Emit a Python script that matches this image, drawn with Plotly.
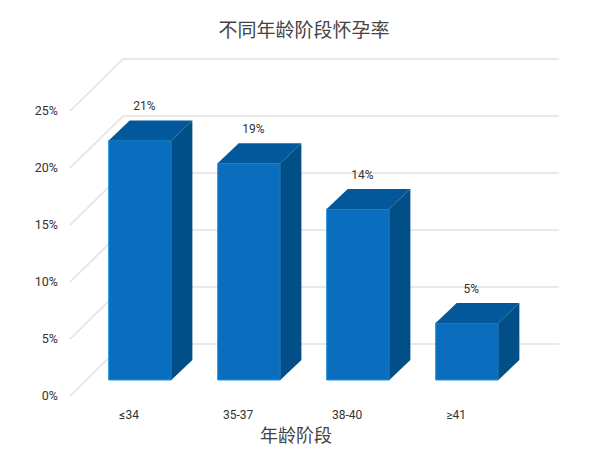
import plotly.graph_objects as go

# Data
categories = ["≤34", "35-37", "38-40", "≥41"]
bar_heights = [21, 19, 15, 5]          # heights as drawn in the picture
bar_labels = ["21%", "19%", "14%", "5%"]  # labels as printed in the picture
y_ticks = [0, 5, 10, 15, 20, 25]
y_tick_labels = ["0%", "5%", "10%", "15%", "20%", "25%"]
title_text = "不同年龄阶段怀孕率"
x_title_text = "年龄阶段"

# Fake-3D geometry, in axis units
BAR_W = 0.575
DX, DY = 0.193, 1.754        # bar depth
WALL_FX, WALL_FY = 0.358, -1.404   # front edge of the side wall
WALL_BX, WALL_BY = 0.844, 3.158    # back edge of the side wall
WALL_RX = 4.844

FRONT, TOP, SIDE = "#0A6DBE", "#03589C", "#024F87"
GRID = "#E2E2E2"
CJK = "Noto Sans CJK SC"
LATIN = "Roboto"

# The page body has an 8 px margin, so the figure is 592x442 and starts at (8, 8)
FIG_W, FIG_H, PAGE = 592, 442, 8
M_L, M_R, M_T, M_B = 53, 30, 32, 48
PLOT_W = FIG_W - M_L - M_R

xs = list(range(1, len(categories) + 1))
fig = go.Figure()

fig.add_trace(go.Bar(x=xs, y=bar_heights, width=BAR_W,
                     marker=dict(color=FRONT, line=dict(color="#1E93DC", width=1)),
                     hoverinfo="skip", showlegend=False))

for x, v in zip(xs, bar_heights):
    l, r = x - BAR_W / 2, x + BAR_W / 2
    fig.add_trace(go.Scatter(x=[l, r, r + DX, l + DX, l], y=[v, v, v + DY, v + DY, v],
                             mode="lines", fill="toself", fillcolor=TOP, line=dict(width=0),
                             hoverinfo="skip", showlegend=False))
    fig.add_trace(go.Scatter(x=[r, r + DX, r + DX, r, r], y=[0, DY, v + DY, v, 0],
                             mode="lines", fill="toself", fillcolor=SIDE, line=dict(width=0),
                             hoverinfo="skip", showlegend=False))

fig.add_trace(go.Scatter(x=[x + 0.04 for x in xs], y=[v + DY + 1.18 for v in bar_heights],
                         mode="text", text=bar_labels, textposition="middle center",
                         textfont=dict(family=LATIN, size=12, color="#333333"),
                         hoverinfo="skip", showlegend=False))

shapes = []
for t in y_ticks:
    common = dict(type="line", layer="below", xref="x", yref="y", line=dict(color=GRID, width=1.6))
    shapes.append(dict(x0=WALL_FX, y0=t + WALL_FY, x1=WALL_BX, y1=t + WALL_BY, **common))
    shapes.append(dict(x0=WALL_BX, y0=t + WALL_BY, x1=WALL_RX, y1=t + WALL_BY, **common))

fig.update_layout(
    width=FIG_W, height=FIG_H, autosize=False,
    margin=dict(l=M_L, r=M_R, t=M_T, b=M_B),
    paper_bgcolor="white", plot_bgcolor="white",
    showlegend=False, shapes=shapes,
    title=dict(text=title_text, x=(304 - PAGE) / FIG_W, xanchor="center",
               y=1 - (30 - PAGE) / FIG_H, yanchor="middle",
               font=dict(family=CJK, size=19, color="#444444")),
    annotations=[dict(text=x_title_text, xref="paper", yref="paper", showarrow=False,
                      x=(296 - PAGE - M_L) / PLOT_W, xanchor="center",
                      y=-(434 - PAGE - (FIG_H - M_B)) / (FIG_H - M_T - M_B), yanchor="middle",
                      font=dict(family=CJK, size=18, color="#444444"))],
    xaxis=dict(range=[0.275, 4.945], showgrid=False, zeroline=False, showline=False,
               tickmode="array", tickvals=[x - 0.1 for x in xs], ticktext=categories,
               ticks="", ticklabelstandoff=4,
               tickfont=dict(family=LATIN, size=12, color="#333333")),
    yaxis=dict(range=[-1.93, 29.82], showgrid=False, zeroline=False, showline=False,
               tickmode="array", tickvals=[t + WALL_FY for t in y_ticks], ticktext=y_tick_labels,
               ticks="", ticklabelstandoff=2,
               tickfont=dict(family=LATIN, size=12.5, color="#333333")),
)

fig.write_html("out.html")
